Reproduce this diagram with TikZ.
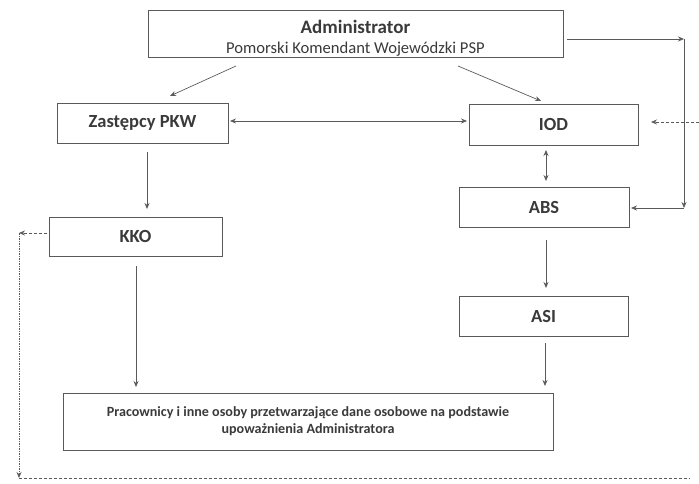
\documentclass[tikz,border=0pt]{standalone}
\usepackage{fontspec}
\setmainfont{Carlito}
\usetikzlibrary{arrows.meta}
\definecolor{txt}{HTML}{3A3A3A}
\definecolor{ln}{HTML}{5A5A5A}
\begin{document}
\begin{tikzpicture}[x=1pt,y=-1pt,
  box/.style={draw=ln,line width=0.8pt,text=txt,font=\bfseries\fontsize{18.5}{20}\selectfont,align=center,inner sep=0pt},
  arr/.style={draw=ln,line width=0.7pt,-{Stealth[length=6pt,width=5pt]}},
  arrb/.style={draw=ln,line width=0.7pt,{Stealth[length=6pt,width=5pt]}-{Stealth[length=6pt,width=5pt]}},
  dsh/.style={draw=ln,line width=0.7pt,dash pattern=on 3pt off 2pt},
  dot/.style={draw=ln,line width=0.8pt,dash pattern=on 1.5pt off 1pt}]
\useasboundingbox (0,0) rectangle (699,484);
\node[box,minimum width=415pt,minimum height=47pt] (admin) at (355.5,33.5)
  {\rule{0pt}{22pt}{\fontsize{19}{19}\selectfont Administrator}\\[0pt]{\mdseries\fontsize{16.6}{17}\selectfont Pomorski Komendant Wojewódzki PSP}};
\node[box,minimum width=171pt,minimum height=40pt] (zast) at (142.5,123) {Zastępcy PKW};
\node[box,minimum width=169pt,minimum height=41pt] (iod) at (553.5,124.5) {IOD};
\node[box,minimum width=170pt,minimum height=40pt] (abs) at (544,207) {ABS};
\node[box,minimum width=169pt,minimum height=40pt] (asi) at (543.5,316) {ASI};
\node[box,minimum width=173pt,minimum height=39pt] (kko) at (135.5,236.5) {KKO};
\node[box,minimum width=490pt,minimum height=57pt,font=\bfseries\fontsize{14.1}{17}\selectfont] (prac) at (308,421.5)
  {Pracownicy i inne osoby przetwarzające dane osobowe na podstawie\\upoważnienia Administratora};
% admin -> zast, admin -> iod
\coordinate (a1) at (236,66); \coordinate (z1) at (170,96);
\coordinate (a2) at (458,66); \coordinate (i1) at (541,101);
\draw[arr] (a1) -- (z1);
\draw[arr] (a2) -- (i1);
% zast <-> iod
\coordinate (z2) at (230,121); \coordinate (i2) at (467,121);
\draw[arrb] (z2) -- (i2);
% iod <-> abs
\coordinate (i3) at (546,150); \coordinate (b1) at (546,181);
\draw[arrb] (i3) -- (b1);
% zast -> kko
\coordinate (z3) at (147,152); \coordinate (k1) at (147,209);
\draw[arr] (z3) -- (k1);
% abs -> asi
\coordinate (b2) at (546,240); \coordinate (s1) at (546,288);
\draw[arr] (b2) -- (s1);
% kko -> prac
\coordinate (k2) at (136,266); \coordinate (p1) at (136,387);
\draw[arr] (k2) -- (p1);
% asi -> prac
\coordinate (s2) at (545,343); \coordinate (p2) at (545,386);
\draw[arr] (s2) -- (p2);
% right loop admin -> abs
\coordinate (r0) at (567,39); \coordinate (r1) at (684,39); \coordinate (r2) at (684,208); \coordinate (b3) at (631,208);
\draw[arr] (r0) -- (r1);
\draw[arr] (r1) -- (r2);
\draw[arr] (r2) -- (b3);
% dashed into iod
\coordinate (e1) at (699,122); \coordinate (i4) at (651,122);
\draw[dsh,-{Stealth[length=6pt,width=5pt]}] (e1) -- (i4);
% dashed from kko
\coordinate (k3) at (47,233); \coordinate (l1) at (19,233); \coordinate (l2) at (19,478); \coordinate (e2) at (690,478);
\draw[dsh,-{Stealth[length=6pt,width=5pt]}] (k3) -- (l1);
\draw[dot,-{Stealth[length=6pt,width=5pt]}] (l1) -- (l2);
\draw[dsh] (l2) -- (e2);
\end{tikzpicture}
\end{document}
